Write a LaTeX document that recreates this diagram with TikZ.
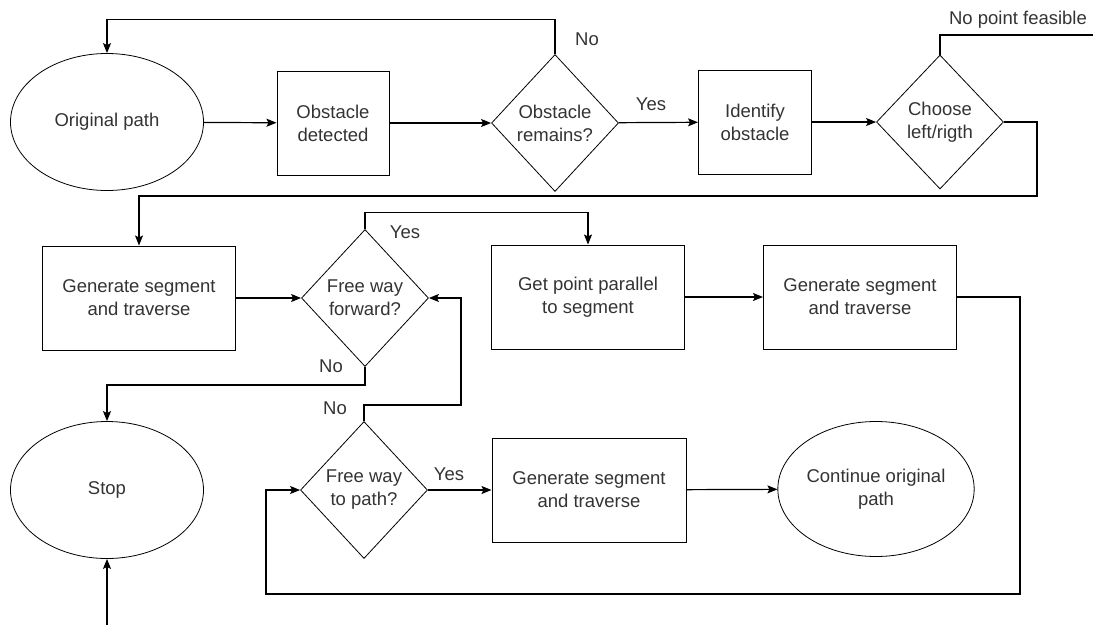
\documentclass[tikz,border=0pt]{standalone}
\usepackage{fontspec}
\setmainfont{Liberation Sans}
\usetikzlibrary{shapes.geometric,arrows.meta}

\begin{document}
\begin{tikzpicture}[x=1pt,y=-1pt,
		line width=1.2pt,
		>={Stealth[length=10pt,width=8pt,inset=2pt]},
		every node/.style={font=\fontsize{18.5}{23}\selectfont,text=black!80,align=center},
		term/.style={draw,ellipse,inner sep=0pt,minimum width=193pt,minimum height=137pt,line width=0.8pt},
		stepbox/.style={draw,rectangle,inner sep=0pt,minimum height=104pt,line width=1pt},
		ask/.style={draw,diamond,inner sep=0pt,minimum width=127pt,minimum height=137pt,line width=0.8pt}]
		\useasboundingbox (0,0) rectangle (1093,625);
		\node[term] (orig) at (107,122) {Original path};
		\node[stepbox,minimum width=112pt] (det) at (333,123) {Obstacle\\detected};
		\node[ask] (rem) at (555,123) {Obstacle\\remains?};
		\node[stepbox,minimum width=113pt] (ident) at (755,122) {Identify\\obstacle};
		\node[ask,minimum height=134pt] (choose) at (940,122) {Choose\\left/rigth};
		\node[stepbox,minimum width=193pt] (gen1) at (139,298) {Generate segment\\and traverse};
		\node[ask] (fwd) at (365,298) {Free way\\forward?};
		\node[stepbox,minimum width=193pt] (getpt) at (588,297) {Get point parallel\\to segment};
		\node[stepbox,minimum width=193pt] (gen2) at (860,297) {Generate segment\\and traverse};
		\node[term] (stop) at (107,490) {Stop};
		\node[ask] (topath) at (364,490) {Free way\\to path?};
		\node[stepbox,minimum width=194pt] (gen3) at (589,490) {Generate segment\\and traverse};
		\node[term,minimum width=192pt,minimum height=135pt] (cont) at (876,489) {Continue original\\path};
		\coordinate (nf) at (1093,35);
		\coordinate (c1) at (1037,196);
		\coordinate (c2) at (1020,594);
		\coordinate (c3) at (266,594);
		\coordinate (c4) at (461,405);
		\coordinate (bot) at (107,625);
		\draw[->] (orig) to (det);
		\draw[->] (det) to (rem);
		\draw[->] (rem) to (ident);
		\draw[->] (ident) to (choose);
		\draw[->] (rem.north) -- ++(0,-35) -| (orig.north);
		\draw (choose.north) |- (nf);
		\draw[->] (choose.east) -| (c1) -| (gen1.north);
		\draw[->] (gen1) to (fwd);
		\draw[->] (fwd.north) -- ++(0,-17) -| (getpt.north);
		\draw[->] (fwd.south) -- ++(0,18) -| (stop.north);
		\draw[->] (getpt) to (gen2);
		\draw[->] (gen2.east) -| (c2) -- (c3) |- (topath.west);
		\draw[->] (topath.north) |- (c4) |- (fwd.east);
		\draw[->] (topath) to (gen3);
		\draw[->] (gen3) to (cont);
		\draw[->] (bot) -- (stop.south);
		\node at (587,39) {No};
		\node at (651,104) {Yes};
		\node at (1018,20) {No point feasible};
		\node at (405,232) {Yes};
		\node at (331,366) {No};
		\node at (335,408) {No};
		\node at (449,474) {Yes};
	\end{tikzpicture}
\end{document}
